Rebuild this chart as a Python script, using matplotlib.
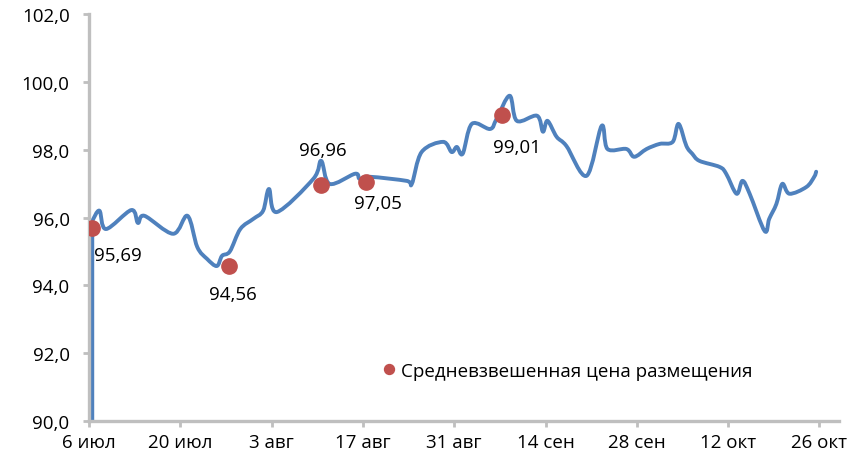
import matplotlib
matplotlib.use("Agg")
import matplotlib.pyplot as plt
from matplotlib.path import Path
from matplotlib.patches import PathPatch

plt.rcParams['font.family'] = ['Open Sans', 'DejaVu Sans']

# цена (день от 6 июля, значение)
price_days = [0.5, 0.5, 1.6, 2.6, 6.5, 7.5, 8.5, 12.9, 15.1, 16.6, 18.1, 19.6,
              20.4, 21.6, 23.2, 25.2, 26.7, 27.6, 28.8, 34.4, 35.6, 36.9, 40.8,
              41.5, 43.1, 48.7, 49.5, 51.0, 54.3, 55.6, 56.4, 57.3, 58.7, 61.5,
              62.5, 64.5, 65.6, 68.7, 69.6, 70.3, 71.7, 73.2, 76.3, 78.6, 79.5,
              82.4, 83.6, 85.5, 87.5, 89.5, 90.4, 91.6, 92.5, 93.6, 96.7, 97.7,
              99.3, 100.2, 101.3, 103.6, 104.3, 105.4, 106.3, 107.4, 110.0,
              111.2, 111.5]
price_vals = [89.0, 95.9, 96.2, 95.66, 96.22, 95.84, 96.05, 95.52, 96.05, 95.13,
              94.78, 94.57, 94.87, 95.0, 95.66, 95.96, 96.2, 96.84, 96.16, 97.14,
              97.67, 96.99, 97.29, 97.14, 97.2, 97.08, 96.99, 97.93, 98.23, 97.93,
              98.08, 97.88, 98.76, 98.61, 98.91, 99.59, 98.85, 99.0, 98.53, 98.85,
              98.38, 98.11, 97.23, 98.7, 98.02, 98.02, 97.79, 98.02, 98.17, 98.23,
              98.76, 98.11, 97.88, 97.67, 97.49, 97.29, 96.7, 97.08, 96.7, 95.6,
              95.96, 96.4, 96.99, 96.7, 96.9, 97.2, 97.35]

# средневзвешенная цена размещения
auction_days = [0.5, 21.5, 35.5, 42.5, 63.4]
auction_vals = [95.69, 94.56, 96.96, 97.05, 99.01]
auction_labels = ["95,69", "94,56", "96,96", "97,05", "99,01"]
label_offsets = [(26, -27), (4, -28), (2, 35), (12, -21), (14, -32)]

tick_days = [0, 14, 28, 42, 56, 70, 84, 98, 112]
tick_labels = ["6 июл", "20 июл", "3 авг", "17 авг", "31 авг",
               "14 сен", "28 сен", "12 окт", "26 окт"]
y_ticks = [90, 92, 94, 96, 98, 100, 102]


def smooth_path(xs, ys):
    """сглаженная линия как в Excel: первый (вертикальный) отрезок прямой,
    дальше кривые Безье через все точки"""
    verts = [(xs[0], ys[0]), (xs[1], ys[1])]
    codes = [Path.MOVETO, Path.LINETO]
    n = len(xs)
    for i in range(1, n - 1):
        x0, y0 = (xs[i - 1], ys[i - 1]) if i > 1 else (xs[i], ys[i])
        x1, y1 = xs[i], ys[i]
        x2, y2 = xs[i + 1], ys[i + 1]
        x3, y3 = (xs[i + 2], ys[i + 2]) if i + 2 < n else (x2, y2)
        c1 = (x1 + (x2 - x0) / 6, y1 + (y2 - y0) / 6)
        c2 = (x2 - (x3 - x1) / 6, y2 - (y3 - y1) / 6)
        verts += [c1, c2, (x2, y2)]
        codes += [Path.CURVE4] * 3
    return Path(verts, codes)


fig = plt.figure(figsize=(8.61, 4.60), dpi=100)
ax = fig.add_axes([89 / 861, 1 - 422 / 460, 750 / 861, 407 / 460])

ax.add_patch(PathPatch(smooth_path(price_days, price_vals), facecolor="none",
                       edgecolor="#4F81BD", linewidth=2.8, joinstyle="round",
                       capstyle="round"))
ax.plot(auction_days, auction_vals, "o", color="#C0504D", markersize=11,
        linestyle="none", label="Средневзвешенная цена размещения", zorder=3)

for d, v, lab, off in zip(auction_days, auction_vals, auction_labels, label_offsets):
    ax.annotate(lab, (d, v), xytext=off, textcoords="offset pixels",
                ha="center", va="center", fontsize=13.5, color="black")

ax.set_xlim(0, 115)
ax.set_ylim(90, 102)
ax.set_xticks(tick_days)
ax.set_xticklabels(tick_labels)
ax.set_yticks(y_ticks)
ax.set_yticklabels([f"{t:.1f}".replace(".", ",") for t in y_ticks])

for side in ["top", "right"]:
    ax.spines[side].set_visible(False)
for side in ["left", "bottom"]:
    ax.spines[side].set_color("#BFBFBF")
    ax.spines[side].set_linewidth(2.4)
ax.tick_params(axis="both", colors="#BFBFBF", width=2, length=4,
               labelcolor="black", labelsize=13.5)
ax.tick_params(axis="y", pad=10)
ax.tick_params(axis="x", pad=5)

leg = ax.legend(loc="center", bbox_to_anchor=(566 / 861, 1 - 372 / 460),
                bbox_transform=fig.transFigure, frameon=False, fontsize=13.5,
                handletextpad=0.1, handlelength=1.0, markerscale=0.65)

fig.savefig("out.png", dpi=100)
